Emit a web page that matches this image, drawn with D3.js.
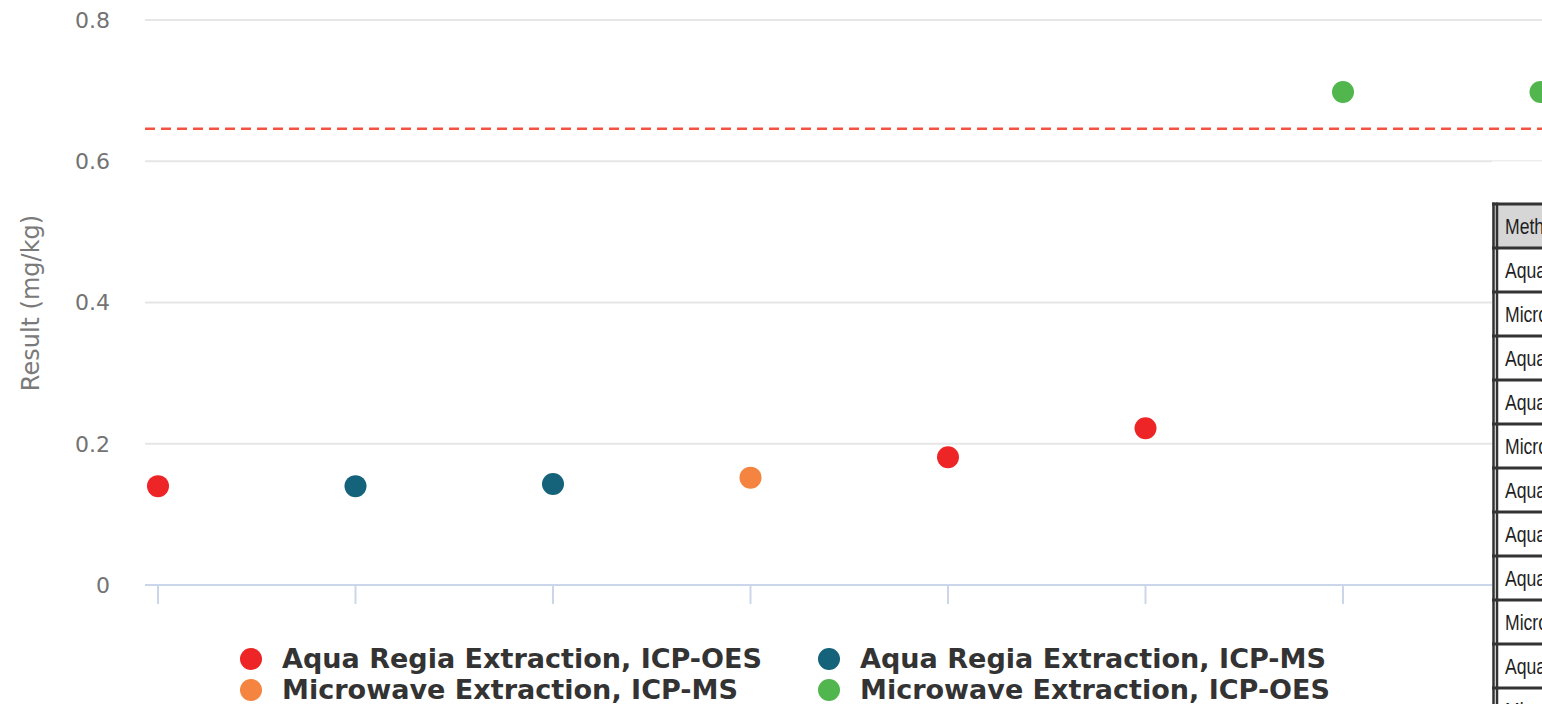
<!DOCTYPE html>
<html>
<head>
<meta charset="utf-8">
<script src="https://cdn.jsdelivr.net/npm/d3@7"></script>
<style>
  body { margin: 0; background: #fff; }
  svg { display: block; }
</style>
</head>
<body>
<script>
// sample order along the x axis (no labels shown)
const sampleIndex = [0, 1, 2, 3, 4, 5, 6, 7];
// method of each result
const sampleMethod = [
    "Aqua Regia Extraction, ICP-OES",
    "Aqua Regia Extraction, ICP-MS",
    "Aqua Regia Extraction, ICP-MS",
    "Microwave Extraction, ICP-MS",
    "Aqua Regia Extraction, ICP-OES",
    "Aqua Regia Extraction, ICP-OES",
    "Microwave Extraction, ICP-OES",
    "Microwave Extraction, ICP-OES"
];
// results in mg/kg
const sampleResult = [0.140, 0.140, 0.143, 0.152, 0.181, 0.222, 0.698, 0.698];
// dashed limit line
const limitValue = 0.646;
const yTicks = [0, 0.2, 0.4, 0.6, 0.8];

// legend order and colours
const legendMethods = [
    "Aqua Regia Extraction, ICP-OES",
    "Aqua Regia Extraction, ICP-MS",
    "Microwave Extraction, ICP-MS",
    "Microwave Extraction, ICP-OES"
];
const legendColors = ["#ee2526", "#15637a", "#f4843f", "#52b64e"];

// table on the right (clipped by the window)
const tableHeader = ["Method"];
const tableRows = [
    "Aqua Regia Extraction, ICP-OES",
    "Microwave Extraction, ICP-MS",
    "Aqua Regia Extraction, ICP-OES",
    "Aqua Regia Extraction, ICP-MS",
    "Microwave Extraction, ICP-OES",
    "Aqua Regia Extraction, ICP-OES",
    "Aqua Regia Extraction, ICP-MS",
    "Aqua Regia Extraction, ICP-OES",
    "Microwave Extraction, ICP-OES",
    "Aqua Regia Extraction, ICP-MS",
    "Microwave Extraction, ICP-MS"
];

const W = 1542, H = 704;
const svg = d3.select("body").append("svg")
    .attr("width", W)
    .attr("height", H);

// scales
const x = d3.scaleLinear().domain([0, 7]).range([158, 1540.5]);
const y = d3.scaleLinear().domain([0, 0.8]).range([585, 20]);
const color = d3.scaleOrdinal().domain(legendMethods).range(legendColors);

const PLOT_LEFT = 145;

// gridlines
svg.append("g")
    .selectAll("line")
    .data(yTicks.filter(d => d > 0))
    .enter()
    .append("line")
    .attr("x1", PLOT_LEFT)
    .attr("x2", W)
    .attr("y1", d => y(d))
    .attr("y2", d => y(d))
    .attr("stroke", "#e6e6e6")
    .attr("stroke-width", 2);

// y tick labels
svg.append("g")
    .selectAll("text")
    .data(yTicks)
    .enter()
    .append("text")
    .attr("x", 110)
    .attr("y", d => y(d))
    .attr("dy", "0.36em")
    .attr("text-anchor", "end")
    .attr("font-family", "DejaVu Sans")
    .attr("font-size", 22)
    .attr("fill", "#737373")
    .text(d => d === 0 ? "0" : d.toFixed(1));

// y title
svg.append("text")
    .attr("transform", "translate(39,303) rotate(-90)")
    .attr("text-anchor", "middle")
    .attr("font-family", "DejaVu Sans")
    .attr("font-size", 24)
    .attr("fill", "#7a7a7a")
    .text("Result (mg/kg)");

// x axis line and ticks
svg.append("line")
    .attr("x1", PLOT_LEFT)
    .attr("x2", W)
    .attr("y1", y(0))
    .attr("y2", y(0))
    .attr("stroke", "#ccd6eb")
    .attr("stroke-width", 2);

svg.append("g")
    .selectAll("line")
    .data(sampleIndex)
    .enter()
    .append("line")
    .attr("x1", d => x(d))
    .attr("x2", d => x(d))
    .attr("y1", y(0))
    .attr("y2", y(0) + 19)
    .attr("stroke", "#ccd6eb")
    .attr("stroke-width", 2);

// dashed limit line
svg.append("line")
    .attr("x1", PLOT_LEFT)
    .attr("x2", W)
    .attr("y1", y(limitValue))
    .attr("y2", y(limitValue))
    .attr("stroke", "#f4533f")
    .attr("stroke-width", 2.5)
    .attr("stroke-dasharray", "10,6");

// points
svg.append("g")
    .selectAll("circle")
    .data(sampleIndex)
    .enter()
    .append("circle")
    .attr("cx", d => x(d))
    .attr("cy", d => y(sampleResult[d]))
    .attr("r", 11)
    .attr("fill", d => color(sampleMethod[d]));

// legend, two columns
const legendCols = [251, 829];
const legendRowsY = [659, 690];
const legendWidths = [480, 466, 456, 470];
const legend = svg.append("g")
    .selectAll("g")
    .data(legendMethods)
    .enter()
    .append("g")
    .attr("transform", (d, i) => "translate(" + legendCols[i % 2] + "," + legendRowsY[Math.floor(i / 2)] + ")");

legend.append("circle")
    .attr("r", 11)
    .attr("fill", d => color(d));

legend.append("text")
    .attr("x", 31)
    .attr("dy", "0.36em")
    .attr("font-family", "DejaVu Sans")
    .attr("font-weight", "bold")
    .attr("font-size", 26)
    .attr("fill", "#333")
    .attr("textLength", (d, i) => legendWidths[i])
    .attr("lengthAdjust", "spacingAndGlyphs")
    .text(d => d);

// table panel on the right
const TABLE_LEFT = 1492;
const ROW_TOP = 204;
const ROW_H = 44;
const table = svg.append("g");

table.append("rect")
    .attr("x", TABLE_LEFT)
    .attr("y", 161)
    .attr("width", W - TABLE_LEFT)
    .attr("height", H - 161)
    .attr("fill", "#fff");

table.append("line")
    .attr("x1", TABLE_LEFT)
    .attr("x2", W)
    .attr("y1", 161)
    .attr("y2", 161)
    .attr("stroke", "#efefef")
    .attr("stroke-width", 1);

const allRows = tableHeader.concat(tableRows);

table.selectAll("rect.cell")
    .data(allRows)
    .enter()
    .append("rect")
    .attr("class", "cell")
    .attr("x", TABLE_LEFT)
    .attr("y", (d, i) => ROW_TOP + i * ROW_H)
    .attr("width", W - TABLE_LEFT)
    .attr("height", ROW_H)
    .attr("fill", (d, i) => i === 0 ? "#d6d6d6" : "#fff");

// condensed cell text
table.selectAll("text.cell")
    .data(allRows)
    .enter()
    .append("text")
    .attr("class", "cell")
    .attr("transform", (d, i) => "translate(1505," + (ROW_TOP + i * ROW_H + 30) + ") scale(0.8,1)")
    .attr("font-family", "Liberation Sans, Arial")
    .attr("font-size", 22)
    .attr("fill", "#1e1e1e")
    .text(d => d);

// row borders
table.selectAll("line.row")
    .data(d3.range(allRows.length + 1))
    .enter()
    .append("line")
    .attr("class", "row")
    .attr("x1", TABLE_LEFT)
    .attr("x2", W)
    .attr("y1", i => ROW_TOP + i * ROW_H)
    .attr("y2", i => ROW_TOP + i * ROW_H)
    .attr("stroke", "#333")
    .attr("stroke-width", 3);

// double left border
[1493.5, 1497].forEach(bx => {
    table.append("line")
        .attr("x1", bx)
        .attr("x2", bx)
        .attr("y1", ROW_TOP - 1.5)
        .attr("y2", H)
        .attr("stroke", "#333")
        .attr("stroke-width", 2.5);
});
</script>
</body>
</html>
